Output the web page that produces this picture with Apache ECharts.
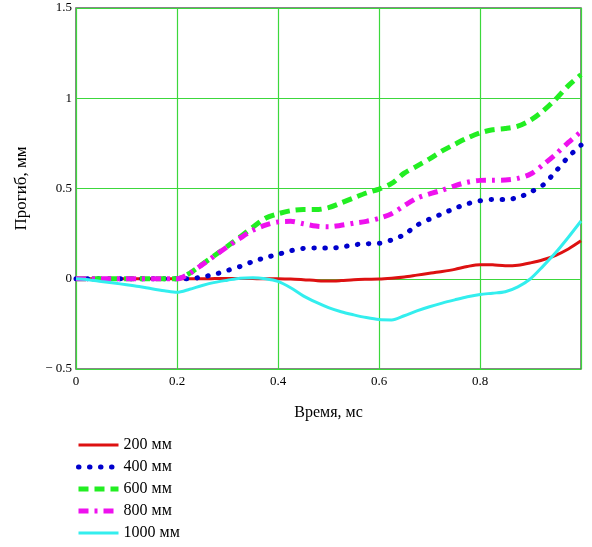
<!DOCTYPE html>
<html>
<head>
<meta charset="utf-8">
<script src="https://cdn.jsdelivr.net/npm/echarts@6/dist/echarts.min.js"></script>
<style>
  html, body { margin: 0; padding: 0; background: #fff; }
  #chart { width: 592px; height: 547px; }
</style>
</head>
<body>
<div id="chart"></div>
<script>
// Time samples, ms
const time = [0, 0.025, 0.05, 0.075, 0.1, 0.125, 0.15, 0.175, 0.2, 0.225, 0.25, 0.275, 0.3, 0.325, 0.35, 0.375, 0.4, 0.425, 0.45, 0.475, 0.5, 0.525, 0.55, 0.575, 0.6, 0.625, 0.65, 0.675, 0.7, 0.725, 0.75, 0.775, 0.8, 0.825, 0.85, 0.875, 0.9, 0.925, 0.95, 0.975, 1.0];

// Deflection, mm, at distances 200 … 1000 mm
const d200 = [0, 0, 0, 0, 0, 0, 0, 0, 0, 0, 0, 0.001, 0.002, 0.002, 0.001, 0, 0, -0.002, -0.005, -0.01, -0.013, -0.01, -0.005, -0.003, -0.002, 0.003, 0.01, 0.02, 0.03, 0.04, 0.052, 0.068, 0.078, 0.077, 0.072, 0.075, 0.088, 0.105, 0.13, 0.165, 0.21];
const d400 = [0, 0, 0, 0, 0, 0, 0, 0, 0, 0, 0.01, 0.025, 0.046, 0.068, 0.095, 0.117, 0.135, 0.155, 0.168, 0.17, 0.17, 0.175, 0.188, 0.194, 0.196, 0.215, 0.245, 0.296, 0.33, 0.36, 0.39, 0.415, 0.432, 0.439, 0.439, 0.45, 0.48, 0.52, 0.595, 0.675, 0.74];
const d600 = [0, 0, 0, 0, 0, 0, 0, 0, 0, 0.03, 0.08, 0.13, 0.18, 0.232, 0.285, 0.335, 0.36, 0.377, 0.383, 0.383, 0.394, 0.42, 0.448, 0.475, 0.497, 0.528, 0.585, 0.624, 0.664, 0.708, 0.745, 0.78, 0.808, 0.825, 0.832, 0.845, 0.878, 0.93, 0.995, 1.07, 1.13];
const d800 = [0, 0, 0, 0, 0, 0, 0, 0, 0, 0.03, 0.078, 0.128, 0.178, 0.225, 0.268, 0.297, 0.315, 0.318, 0.305, 0.292, 0.288, 0.296, 0.308, 0.318, 0.335, 0.36, 0.405, 0.446, 0.47, 0.491, 0.515, 0.535, 0.545, 0.546, 0.547, 0.556, 0.58, 0.632, 0.69, 0.755, 0.815];
const d1000 = [0, -0.005, -0.015, -0.024, -0.033, -0.043, -0.055, -0.066, -0.075, -0.058, -0.037, -0.02, -0.008, 0.003, 0.006, 0, -0.015, -0.05, -0.095, -0.13, -0.16, -0.183, -0.2, -0.215, -0.226, -0.228, -0.205, -0.178, -0.155, -0.135, -0.117, -0.1, -0.087, -0.08, -0.072, -0.045, 0, 0.07, 0.145, 0.23, 0.32];

const seriesNames = ['200 мм', '400 мм', '600 мм', '800 мм', '1000 мм'];
const xTicks = ['0', '0.2', '0.4', '0.6', '0.8'];

const font = '"Liberation Serif", "Times New Roman", serif';
const pair = ys => time.map((t, i) => [t, ys[i]]);

const styles = [
  { color: '#dd1111', width: 3, type: 'solid', cap: 'butt' },
  { color: '#0000cc', width: 5, type: [0.5, 10.5], cap: 'round' },
  { color: '#22ee22', width: 5, type: [10, 6], cap: 'butt' },
  { color: '#ee11ee', width: 5, type: [10, 6, 3, 6], cap: 'butt' },
  { color: '#33eeee', width: 3, type: 'solid', cap: 'butt' }
];
const values = [d200, d400, d600, d800, d1000];

const lineStyleOf = k => ({
  color: styles[k].color, width: styles[k].width, type: styles[k].type, cap: styles[k].cap
});

const chart = echarts.init(document.getElementById('chart'), null, { renderer: 'canvas' });
chart.setOption({
  animation: false,
  backgroundColor: '#fff',
  grid: {
    left: 76, right: 11, top: 8, bottom: 178,
    show: true, borderColor: '#606060', borderWidth: 1.5, backgroundColor: 'transparent'
  },
  xAxis: {
    type: 'value', min: 0, max: 1, interval: 0.2,
    name: 'Время, мс', nameLocation: 'middle', nameGap: 36,
    nameTextStyle: { fontFamily: font, fontSize: 16, color: '#000' },
    axisLine: { show: false },
    axisTick: { show: false },
    splitLine: { show: true, lineStyle: { color: '#3cd83c', width: 1.2 } },
    axisLabel: {
      fontFamily: font, fontSize: 13, color: '#000', margin: 6,
      showMaxLabel: false,
      formatter: v => { const i = Math.round(v / 0.2); return i < xTicks.length ? xTicks[i] : ''; }
    }
  },
  yAxis: {
    type: 'value', min: -0.5, max: 1.5, interval: 0.5,
    name: 'Прогиб, мм', nameLocation: 'middle', nameGap: 46,
    nameTextStyle: { fontFamily: font, fontSize: 17, color: '#000' },
    axisLine: { show: false },
    axisTick: { show: false },
    splitLine: { show: true, lineStyle: { color: '#3cd83c', width: 1.2 } },
    axisLabel: {
      fontFamily: font, fontSize: 13, color: '#000', margin: 4,
      formatter: v => v < 0 ? '− ' + String(-v) : String(v)
    }
  },
  legend: {
    orient: 'vertical', left: 76, top: 437, height: 110, padding: 0,
    itemWidth: 40, itemHeight: 12, itemGap: 6,
    itemStyle: { opacity: 0 },
    textStyle: { fontFamily: font, fontSize: 16, color: '#000' },
    data: seriesNames.map((n, k) => ({ name: n, lineStyle: lineStyleOf(k) }))
  },
  series: values.map((ys, k) => ({
    name: seriesNames[k],
    type: 'line',
    data: pair(ys),
    smooth: 0.3,
    showSymbol: false,
    symbol: 'none',
    color: styles[k].color,
    lineStyle: lineStyleOf(k)
  }))
});
</script>
</body>
</html>
